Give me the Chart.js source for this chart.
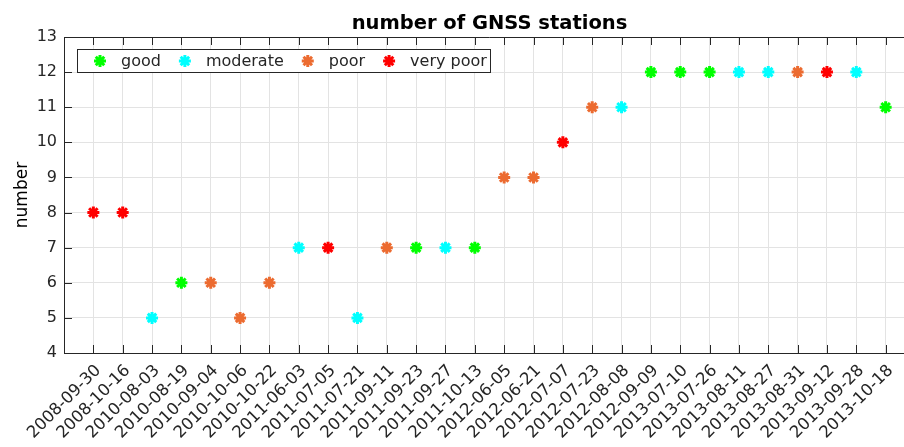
<!DOCTYPE html>
<html>
<head>
<meta charset="utf-8">
<script src="https://cdn.jsdelivr.net/npm/chart.js@4/dist/chart.umd.min.js"></script>
<style>
  body { margin: 0; background: #fff; }
  #wrap { width: 904px; height: 447px; overflow: hidden; position: relative; }
</style>
</head>
<body>
<div id="wrap"><canvas id="chart" width="924" height="447"></canvas></div>
<script>
// observation dates (one per category)
const categories = [
    '2008-09-30', '2008-10-16', '2010-08-03', '2010-08-19', '2010-09-04', '2010-10-06',
    '2010-10-22', '2011-06-03', '2011-07-05', '2011-07-21', '2011-09-11', '2011-09-23',
    '2011-09-27', '2011-10-13', '2012-06-05', '2012-06-21', '2012-07-07', '2012-07-23',
    '2012-08-08', '2012-09-09', '2013-07-10', '2013-07-26', '2013-08-11', '2013-08-27',
    '2013-08-31', '2013-09-12', '2013-09-28', '2013-10-18'
];
const stations = [8, 8, 5, 6, 6, 5, 6, 7, 7, 5, 7, 7, 7, 7, 9, 9, 10, 11, 11, 12, 12, 12, 12, 12, 12, 12, 12, 11];
const quality = [
    'very poor', 'very poor', 'moderate', 'good', 'poor', 'poor', 'poor', 'moderate',
    'very poor', 'moderate', 'poor', 'good', 'moderate', 'good', 'poor', 'poor',
    'very poor', 'poor', 'moderate', 'good', 'good', 'good', 'moderate', 'moderate',
    'poor', 'very poor', 'moderate', 'good'
];
const classes = ['good', 'moderate', 'poor', 'very poor'];
const classColors = ['#00ff00', '#00ffff', '#ec6b30', '#ff0000'];
const yMin = 4, yMax = 13;

const textColor = '#262626';
const fontFamily = '"DejaVu Sans", sans-serif';

// blank slots at both ends so the dates sit one step in from the axes
const labels = ['', ...categories, ''];

const datasets = classes.map((cls, k) => ({
    label: cls,
    data: labels.map((l, i) => (i > 0 && i <= categories.length && quality[i - 1] === cls) ? stations[i - 1] : null),
    showLine: false,
    pointStyle: 'star',
    pointRadius: 6,
    pointBorderWidth: 3,
    borderColor: classColors[k],
    backgroundColor: classColors[k]
}));

// ticks inside the box, top border, titles and legend in the MATLAB way
const decor = {
    id: 'decor',
    afterDraw(chart) {
        const ctx = chart.ctx;
        const area = chart.chartArea;
        const xs = chart.scales.x, ys = chart.scales.y;
        ctx.save();
        ctx.strokeStyle = textColor;
        ctx.lineWidth = 1;
        ctx.beginPath();
        ctx.moveTo(area.left, area.top + 0.5);
        ctx.lineTo(area.right, area.top + 0.5);
        for (let i = 1; i <= categories.length; i++) {
            const x = Math.round(xs.getPixelForValue(i)) + 0.5;
            ctx.moveTo(x, area.bottom);
            ctx.lineTo(x, area.bottom - 8);
            ctx.moveTo(x, area.top);
            ctx.lineTo(x, area.top + 8);
        }
        for (let v = yMin; v <= yMax; v++) {
            const y = Math.round(ys.getPixelForValue(v)) + 0.5;
            ctx.moveTo(area.left, y);
            ctx.lineTo(area.left + 8, y);
        }
        ctx.stroke();

        // title
        ctx.fillStyle = '#000';
        ctx.font = 'bold 19.5px ' + fontFamily;
        ctx.textAlign = 'center';
        ctx.textBaseline = 'alphabetic';
        ctx.fillText('number of GNSS stations', (area.left + area.right) / 2, 29);

        // y axis title
        ctx.save();
        ctx.translate(27, (area.top + area.bottom) / 2);
        ctx.rotate(-Math.PI / 2);
        ctx.font = '17px ' + fontFamily;
        ctx.fillText('number', 0, 0);
        ctx.restore();

        // legend
        ctx.font = '16px ' + fontFamily;
        ctx.textAlign = 'left';
        ctx.textBaseline = 'middle';
        const ly = 61;
        let cx = 100;
        const items = [];
        classes.forEach((cls, k) => {
            const tx = cx + 21;
            const w = ctx.measureText(cls).width;
            items.push({ cls, k, mx: cx, tx });
            cx = tx + w + 24;
        });
        const boxLeft = 77.5, boxRight = Math.round(cx - 24 + 3) + 0.5;
        ctx.fillStyle = '#fff';
        ctx.fillRect(boxLeft, 49.5, boxRight - boxLeft, 23);
        ctx.strokeStyle = textColor;
        ctx.lineWidth = 1;
        ctx.strokeRect(boxLeft, 49.5, boxRight - boxLeft, 23);
        items.forEach(it => {
            ctx.strokeStyle = classColors[it.k];
            ctx.fillStyle = classColors[it.k];
            ctx.lineWidth = 3;
            Chart.helpers.drawPoint(ctx, { pointStyle: 'star', radius: 6, borderWidth: 3 }, it.mx, ly);
            ctx.fillStyle = textColor;
            ctx.fillText(it.cls, it.tx, ly + 1);
        });
        ctx.restore();
    }
};

new Chart(document.getElementById('chart'), {
    type: 'line',
    data: { labels: labels, datasets: datasets },
    options: {
        responsive: false,
        animation: false,
        layout: { padding: { top: 37, right: 6, left: 0, bottom: 0 } },
        plugins: {
            legend: { display: false },
            title: { display: false },
            tooltip: { enabled: false }
        },
        scales: {
            x: {
                offset: false,
                grid: { color: '#e3e3e3', drawTicks: false },
                border: { color: textColor },
                ticks: {
                    autoSkip: false, maxRotation: 45, minRotation: 45,
                    color: textColor, padding: 8, labelOffset: 5,
                    font: { family: fontFamily, size: 16.5 }
                },
                afterFit: s => { s.height = 94; s.paddingLeft = 0; s.paddingRight = 0; }
            },
            y: {
                min: yMin, max: yMax,
                grid: { color: '#e3e3e3', drawTicks: false },
                border: { color: textColor },
                ticks: {
                    stepSize: 1, color: textColor, padding: 7,
                    font: { family: fontFamily, size: 16 }
                },
                afterFit: s => { s.width = 64; s.paddingTop = 0; s.paddingBottom = 0; }
            }
        }
    },
    plugins: [decor]
});
</script>
</body>
</html>
